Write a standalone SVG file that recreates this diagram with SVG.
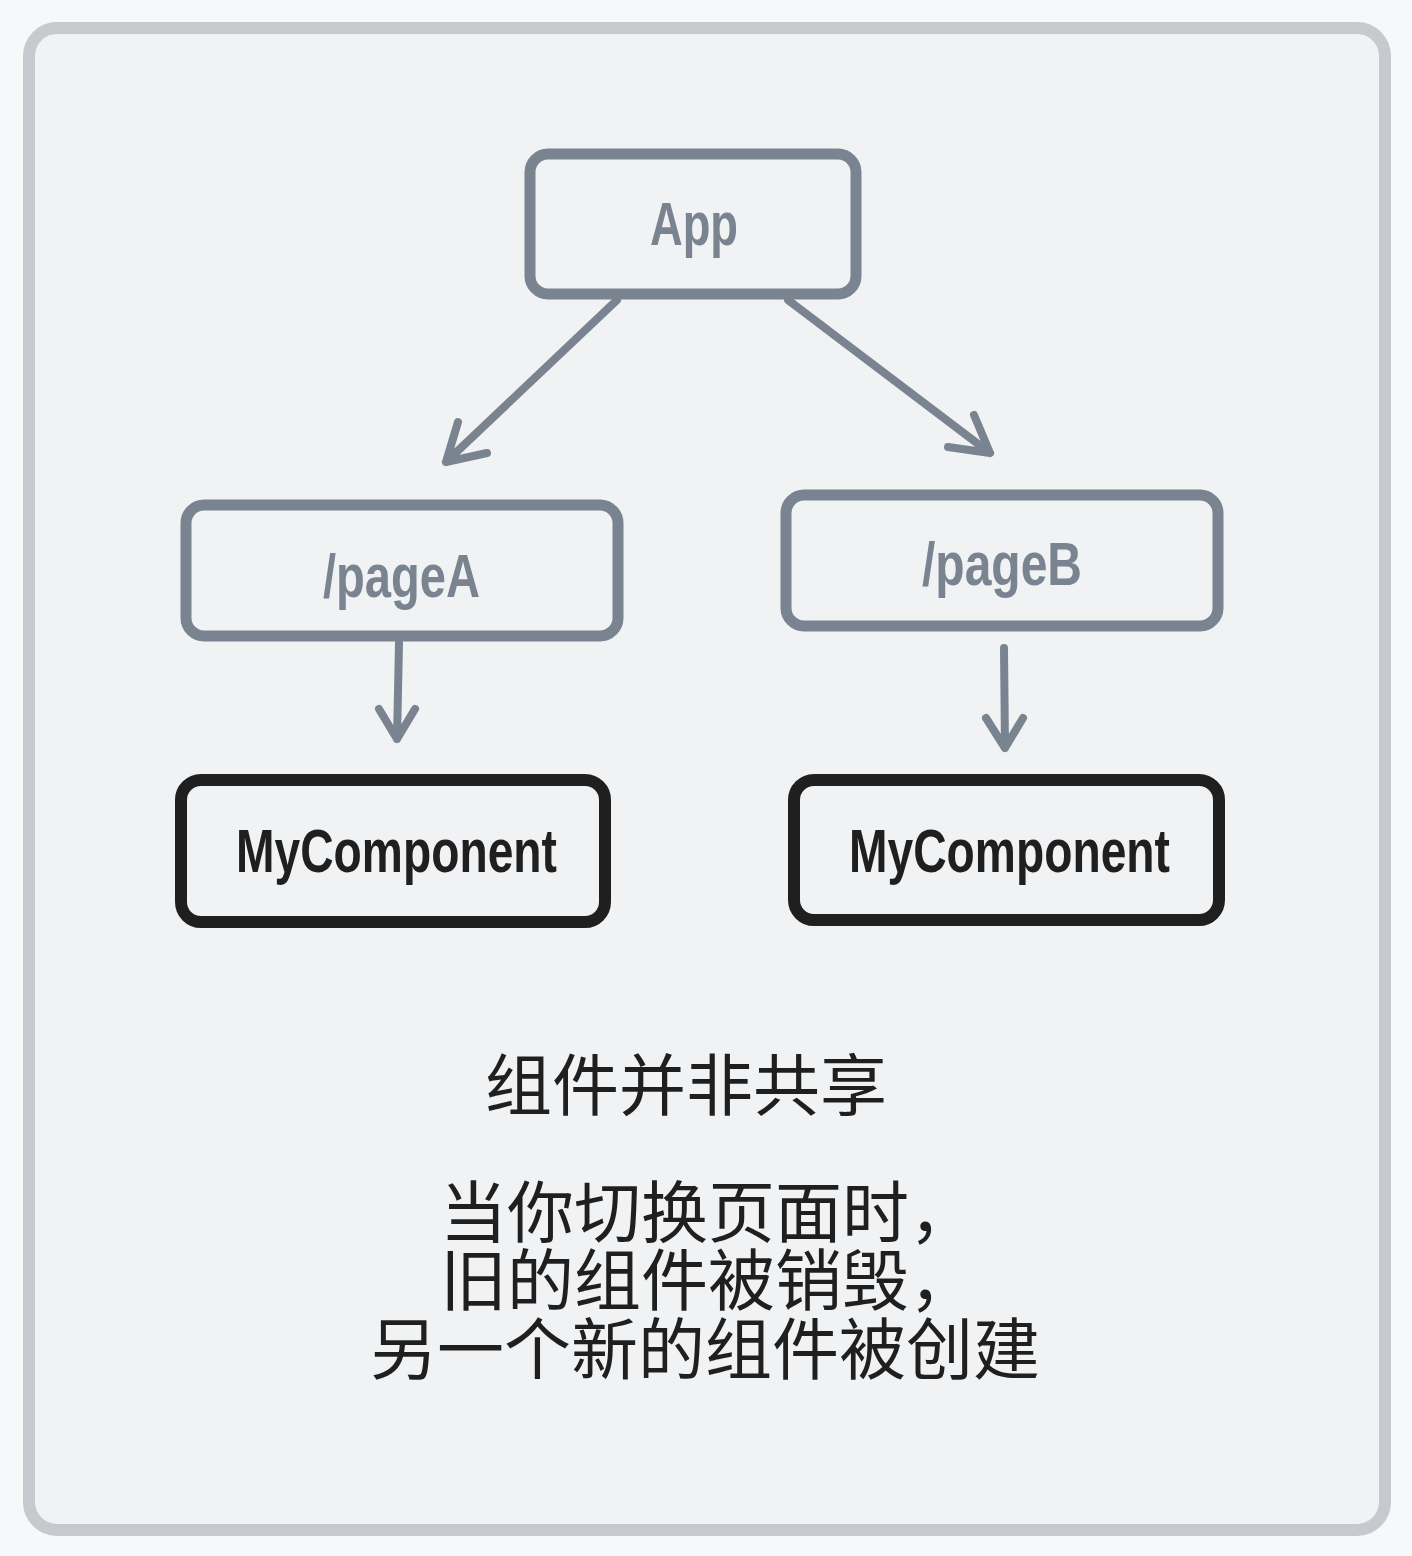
<svg xmlns="http://www.w3.org/2000/svg" width="1412" height="1556" viewBox="0 0 1412 1556">
<style>
.gbox{fill:none;stroke:#7a8491;stroke-width:11;stroke-linejoin:round}
.bbox{fill:none;stroke:#1f1f1f;stroke-width:12;stroke-linejoin:round}
.conn{fill:none;stroke:#7a8491;stroke-width:8;stroke-linecap:round;stroke-linejoin:round}
.lbl{font-family:"Liberation Sans","DejaVu Sans",sans-serif;font-weight:bold;font-size:62px;text-anchor:start}
.g{fill:#7a8491}
.b{fill:#1f1f1f}
.cjk{font-family:"Noto Sans CJK SC","Noto Sans",sans-serif;font-size:67px;fill:#1f1f1f}
</style>
<rect x="0" y="0" width="1412" height="1556" fill="#f7f8f9"/>
<rect id="frame" x="29" y="28" width="1356" height="1502" rx="28" fill="#f1f2f4" stroke="#c6c9ce" stroke-width="12"/>

<g id="node-app">
<rect class="gbox" x="530" y="154" width="326" height="140" rx="18"/>
<text class="lbl g" x="650" y="245" textLength="88" lengthAdjust="spacingAndGlyphs">App</text>
</g>
<g id="node-pageA">
<rect class="gbox" x="186" y="505" width="432" height="131" rx="18"/>
<text class="lbl g" x="323" y="597" textLength="157" lengthAdjust="spacingAndGlyphs">/pageA</text>
</g>
<g id="node-pageB">
<rect class="gbox" x="786" y="495" width="432" height="131" rx="18"/>
<text class="lbl g" x="922" y="585" textLength="160" lengthAdjust="spacingAndGlyphs">/pageB</text>
</g>
<g id="node-mycomp-a">
<rect class="bbox" x="181" y="780" width="424" height="142" rx="20"/>
<text class="lbl b" x="236" y="872" textLength="321" lengthAdjust="spacingAndGlyphs">MyComponent</text>
</g>
<g id="node-mycomp-b">
<rect class="bbox" x="794" y="780" width="425" height="140" rx="20"/>
<text class="lbl b" x="849" y="872" textLength="321" lengthAdjust="spacingAndGlyphs">MyComponent</text>
</g>

<g id="connectors">
<path class="conn" d="M617 300 L446 462 M458 422 L446 462 L487 453"/>
<path class="conn" d="M788 300 L990 453 M974 415 L990 453 L948 447"/>
<path class="conn" d="M399 643 L397 739 M379 709 L397 739 L415 709"/>
<path class="conn" d="M1004 648 L1005 748 M986 718 L1005 748 L1023 718"/>
</g>

<g id="caption">
<text class="cjk" x="485" y="1110">组件并非共享</text>
<text class="cjk" x="440" y="1237">当你切换页面时，</text>
<text class="cjk" x="440" y="1305">旧的组件被销毁，</text>
<text class="cjk" x="370" y="1374">另一个新的组件被创建</text>
</g>
</svg>
